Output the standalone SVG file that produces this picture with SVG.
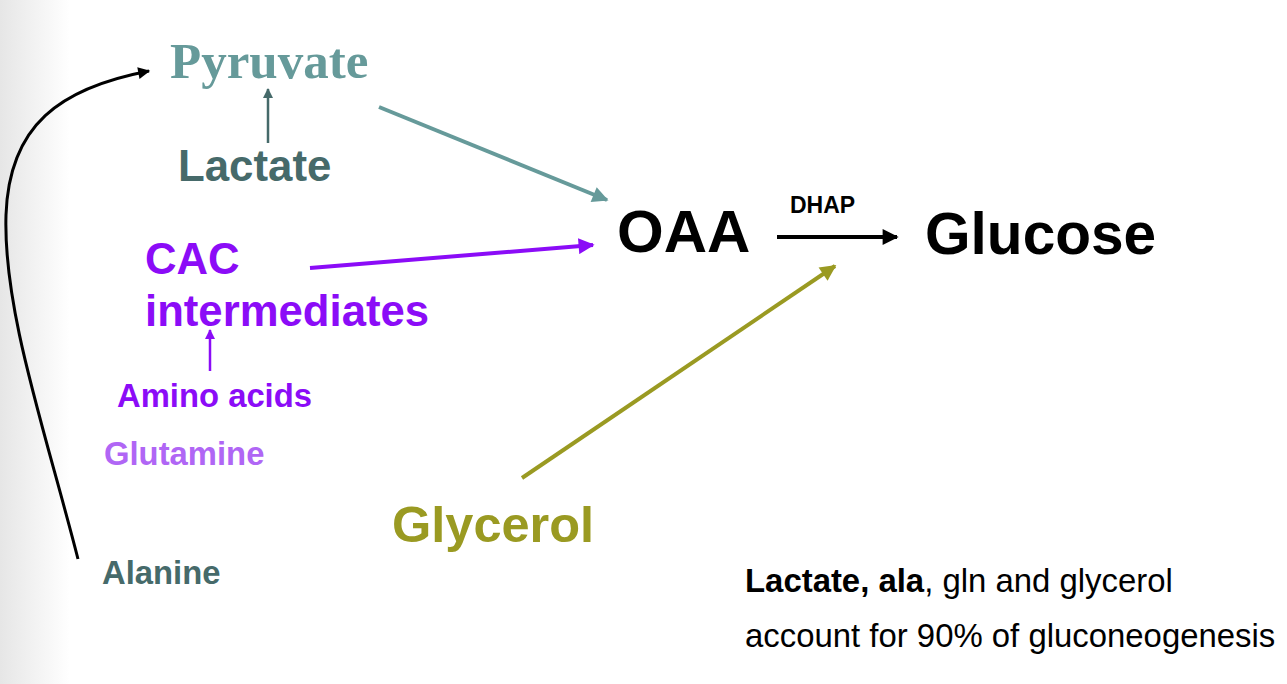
<svg xmlns="http://www.w3.org/2000/svg" width="1287" height="684" viewBox="0 0 1287 684">
<defs>
<linearGradient id="edge" x1="0" y1="0" x2="1" y2="0">
<stop offset="0" stop-color="#e6e6e6"/>
<stop offset="1" stop-color="#ffffff"/>
</linearGradient>
<marker id="ah-teal" viewBox="0 0 10 10" refX="9" refY="5" markerWidth="4.5" markerHeight="4" orient="auto" markerUnits="strokeWidth"><path d="M0,0 L10,5 L0,10 Z" fill="#669a9a"/></marker>
<marker id="ah-dteal" viewBox="0 0 10 10" refX="9" refY="5" markerWidth="4.5" markerHeight="4" orient="auto" markerUnits="strokeWidth"><path d="M0,0 L10,5 L0,10 Z" fill="#466a6a"/></marker>
<marker id="ah-purple" viewBox="0 0 10 10" refX="9" refY="5" markerWidth="4.5" markerHeight="4" orient="auto" markerUnits="strokeWidth"><path d="M0,0 L10,5 L0,10 Z" fill="#8b0cf7"/></marker>
<marker id="ah-olive" viewBox="0 0 10 10" refX="9" refY="5" markerWidth="4.5" markerHeight="4" orient="auto" markerUnits="strokeWidth"><path d="M0,0 L10,5 L0,10 Z" fill="#9a9a22"/></marker>
<marker id="ah-black" viewBox="0 0 10 10" refX="9" refY="5" markerWidth="4.5" markerHeight="4" orient="auto" markerUnits="strokeWidth"><path d="M0,0 L10,5 L0,10 Z" fill="#000"/></marker>
</defs>
<style>
text{font-family:"Liberation Sans",Arial,sans-serif;font-weight:bold}
.serif{font-family:"Liberation Serif","Times New Roman",serif}
.teal{fill:#669a9a}
.dteal{fill:#466a6a}
.purple{fill:#8b0cf7}
.lpurple{fill:#b066f5}
.olive{fill:#9a9a22}
.blk{fill:#000}
.reg{font-weight:normal}
.c{fill:none;stroke-linecap:butt}
</style>
<rect x="0" y="0" width="1287" height="684" fill="#fff"/>
<rect x="0" y="0" width="70" height="684" fill="url(#edge)"/>
<g id="connectors">
<path class="c" d="M268,143 L268,89" stroke="#466a6a" stroke-width="2.5" marker-end="url(#ah-dteal)"/>
<path class="c" d="M379,107 L607,200" stroke="#669a9a" stroke-width="4" marker-end="url(#ah-teal)"/>
<path class="c" d="M310,268 L593,245" stroke="#8b0cf7" stroke-width="4" marker-end="url(#ah-purple)"/>
<path class="c" d="M210,371 L210,330" stroke="#8b0cf7" stroke-width="2.5" marker-end="url(#ah-purple)"/>
<path class="c" d="M522,478 L835,266" stroke="#9a9a22" stroke-width="4" marker-end="url(#ah-olive)"/>
<path class="c" d="M777,237 L897,237" stroke="#000" stroke-width="4" marker-end="url(#ah-black)"/>
<path class="c" d="M78,559 C45,430 3,310 6,215 C9,125 60,88 149,71" stroke="#000" stroke-width="3" marker-end="url(#ah-black)"/>
</g>
<g id="pyruvate"><text class="serif teal" x="170" y="78" font-size="51">Pyruvate</text></g>
<g id="lactate"><text class="dteal" x="178" y="181" font-size="43.8">Lactate</text></g>
<g id="oaa"><text class="blk" x="617" y="252" font-size="60">OAA</text></g>
<g id="dhap"><text class="blk" x="790" y="213" font-size="23">DHAP</text></g>
<g id="glucose"><text class="blk" x="925" y="254" font-size="58.6">Glucose</text></g>
<g id="cac"><text class="purple" font-size="43.7"><tspan x="145" y="274">CAC</tspan><tspan x="145" y="326">intermediates</tspan></text></g>
<g id="amino"><text class="purple" x="117" y="407" font-size="32.8">Amino acids</text></g>
<g id="glutamine"><text class="lpurple" x="104" y="465" font-size="32.8">Glutamine</text></g>
<g id="alanine"><text class="dteal" x="102" y="584" font-size="32.8">Alanine</text></g>
<g id="glycerol"><text class="olive" x="392" y="542" font-size="50.5">Glycerol</text></g>
<g id="note"><text class="blk" font-size="32.9"><tspan x="745" y="592">Lactate, ala</tspan><tspan class="reg">, gln and glycerol</tspan><tspan class="reg" x="745" y="647">account for 90% of gluconeogenesis</tspan></text></g>
</svg>
